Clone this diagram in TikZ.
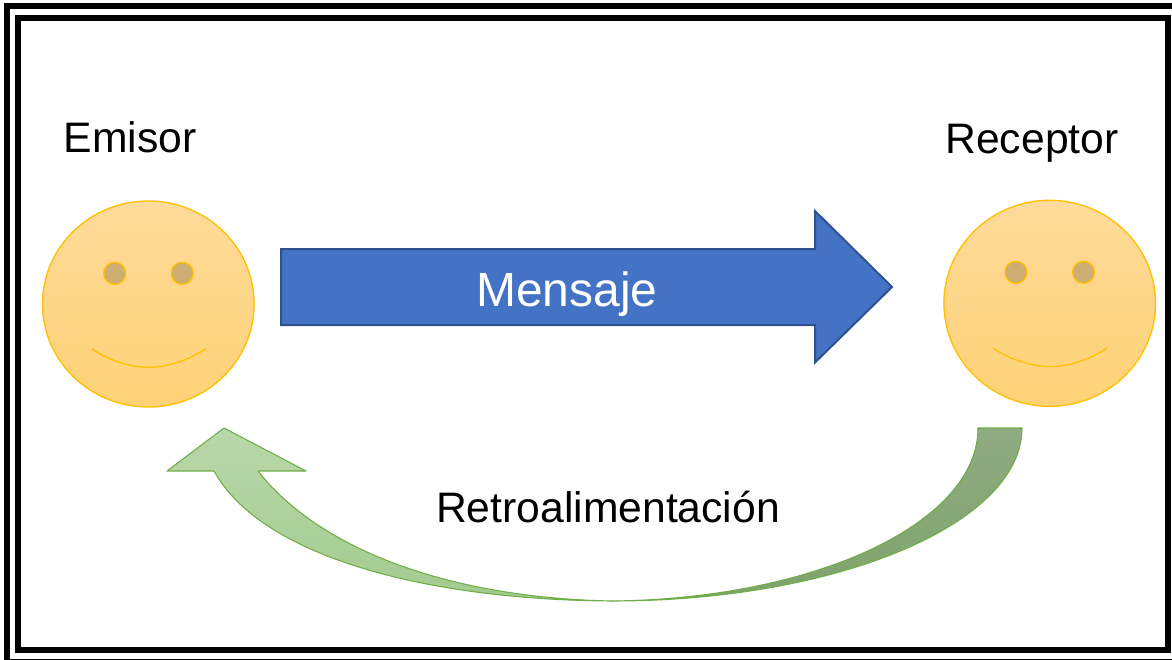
\documentclass[tikz,border=0pt]{standalone}
\usepackage{fontspec}
\setmainfont{Liberation Sans}
\definecolor{faceline}{HTML}{FFC000}
\definecolor{facetop}{HTML}{FEDB9B}
\definecolor{facemid}{HTML}{FED688}
\definecolor{facebot}{HTML}{FFD277}
\definecolor{eyefill}{HTML}{CCAE73}
\definecolor{bluefill}{HTML}{4472C4}
\definecolor{blueline}{HTML}{2F528F}
\definecolor{greenline}{HTML}{70AD47}
\definecolor{darktop}{HTML}{8FAB82}
\definecolor{darkbot}{HTML}{7EA36C}
\definecolor{lighttop}{HTML}{B9D7AB}
\definecolor{lightbot}{HTML}{A3CB8F}
\tikzset{
  band/.style={draw=black,line width=4.5pt,fill=none},
  face/.style={draw=faceline,line width=1pt,top color=facetop,bottom color=facebot,middle color=facemid},
  eye/.style={draw=faceline,line width=1pt,fill=eyefill},
  smile/.style={draw=faceline,line width=1pt},
  bluearrow/.style={draw=blueline,line width=1.5pt,fill=bluefill,line join=miter},
  greenedge/.style={draw=greenline,line width=.8pt,line join=round},
  label/.style={anchor=base,inner sep=0pt,font=\fontsize{32}{38}\selectfont,text=black}
}
\begin{document}
\begin{tikzpicture}[x=0.75pt,y=-0.75pt]
\useasboundingbox (0,0) rectangle (1172,660);
\fill[white] (0,0) rectangle (1172,660);
\begin{scope}
\clip (0,0) rectangle (1172,660);
\draw[band] (7,6) rectangle (1180,662);
\draw[band] (18,18) rectangle (1168,650);
\end{scope}

% faces
\draw[face] (148.3,304) ellipse[x radius=105.8,y radius=103];
\draw[eye] (114.7,273.3) circle[radius=11];
\draw[eye] (182.3,273.3) circle[radius=11];
\draw[smile] (91.7,348.7) .. controls (110,361) and (130,367.3) .. (148.3,367.3) .. controls (167,367.3) and (187,361) .. (205.7,348.7);

\draw[face] (1049.7,303.3) ellipse[x radius=105.8,y radius=103];
\draw[eye] (1016,272.3) circle[radius=11];
\draw[eye] (1083.6,272.3) circle[radius=11];
\draw[smile] (993,348) .. controls (1011,360) and (1031,366.5) .. (1050,366.5) .. controls (1069,366.5) and (1089,360) .. (1107,348);

% blue arrow
\draw[bluearrow] (281,249) -- (815,249) -- (815,211) -- (892,287) -- (815,362.5) -- (815,325) -- (281,325) -- cycle;
\node[label,text=white,font=\fontsize{36}{42}\selectfont] (mensaje) at (567,306) {Mensaje};

% green curved arrow
\shade[top color=darktop,bottom color=darkbot]
  (1022,428) .. controls (1022,523.5) and (838.4,601) .. (612,601)
  .. controls (814,599) and (978,523.5) .. (978,428) -- cycle;
\draw[greenedge]
  (1022,428) .. controls (1022,523.5) and (838.4,601) .. (612,601)
  .. controls (814,599) and (978,523.5) .. (978,428) -- cycle;
\shade[top color=lighttop,bottom color=lightbot]
  (612,601) .. controls (430,600) and (262,558) .. (214,471) -- (167,471) -- (224,428) -- (306,471) -- (258,471)
  .. controls (320,550) and (450,598) .. (612,601) -- cycle;
\draw[greenedge]
  (612,601) .. controls (430,600) and (262,558) .. (214,471) -- (167,471) -- (224,428) -- (306,471) -- (258,471)
  .. controls (320,550) and (450,598) .. (612,601) -- cycle;

% labels
\node[label] (emisor) at (130,152) {Emisor};
\node[label] (receptor) at (1032,153) {Receptor};
\node[label] (retro) at (608,522) {Retroalimentación};
\end{tikzpicture}
\end{document}
